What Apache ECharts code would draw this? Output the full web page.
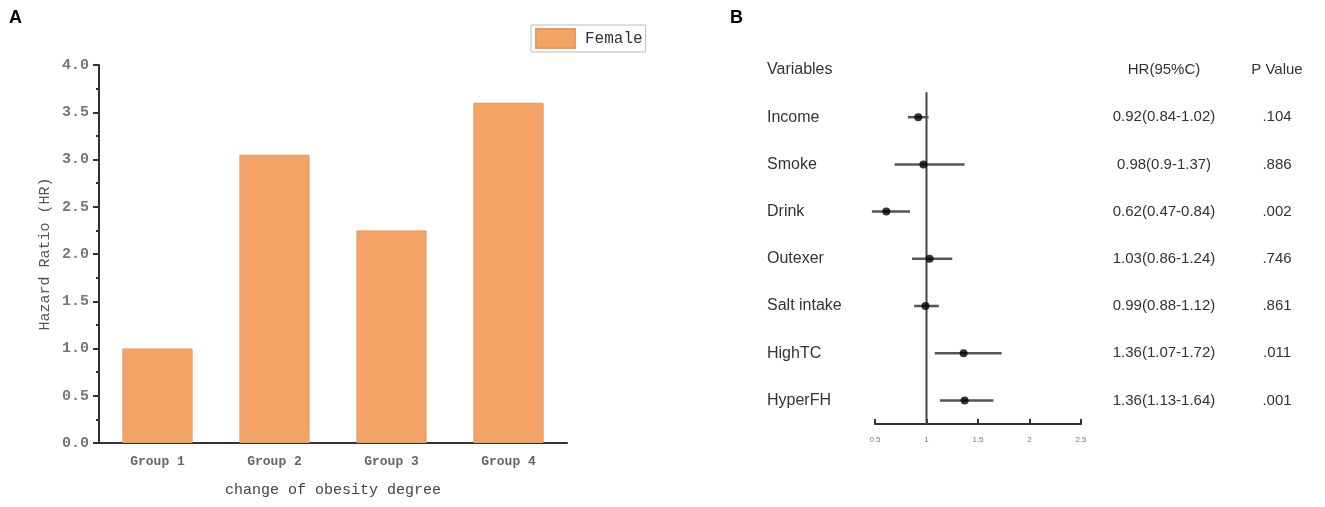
<!DOCTYPE html>
<html>
<head>
<meta charset="utf-8">
<script src="https://cdn.jsdelivr.net/npm/echarts@6/dist/echarts.min.js"></script>
<style>html,body{margin:0;padding:0;background:#fff;}#main{width:1325px;height:507px;}</style>
</head>
<body>
<div id="main"></div>
<script>
// ---- Panel A data ----
const groups = ['Group 1', 'Group 2', 'Group 3', 'Group 4'];
const femaleHR = [1.0, 3.05, 2.25, 3.6];
const yTicksA = [0, 0.5, 1, 1.5, 2, 2.5, 3, 3.5, 4];

// ---- Panel B data ----
const variables = ['Income', 'Smoke', 'Drink', 'Outexer', 'Salt intake', 'HighTC', 'HyperFH'];
const hrPoint = [0.92, 0.97, 0.61, 1.03, 0.99, 1.36, 1.37];
const ciLower = [0.82, 0.69, 0.47, 0.86, 0.88, 1.08, 1.13];
const ciUpper = [1.02, 1.37, 0.84, 1.25, 1.12, 1.73, 1.65];
const hrText = ['0.92(0.84-1.02)', '0.98(0.9-1.37)', '0.62(0.47-0.84)', '1.03(0.86-1.24)', '0.99(0.88-1.12)', '1.36(1.07-1.72)', '1.36(1.13-1.64)'];
const pText = ['.104', '.886', '.002', '.746', '.861', '.011', '.001'];
const headers = ['Variables', 'HR(95%C)', 'P Value'];
const xTicksB = [0.5, 1, 1.5, 2, 2.5];

const chart = echarts.init(document.getElementById('main'));

const monoFont = 'Liberation Mono';
const sansFont = 'Liberation Sans';

function rowLabel(arr, header) {
  return function (v) {
    if (Math.abs(v - Math.round(v)) > 1e-6) return '';
    const i = Math.round(v);
    if (i === -1) return header;
    return (i >= 0 && i < arr.length) ? arr[i] : '';
  };
}

const forestY = {
  gridIndex: 1, type: 'value', min: -1, max: 6.5, interval: 1, inverse: true,
  axisLine: { show: false, onZero: false }, axisTick: { show: false }, splitLine: { show: false }
};
const rowStyle = { color: '#333', fontFamily: sansFont, fontSize: 15, padding: [4, 0, 0, 0] };

const option = {
  animation: false,
  backgroundColor: '#fff',
  graphic: [
    { type: 'text', left: 9, top: 9, style: { text: 'A', font: 'bold 18px Liberation Sans', fill: '#000' } },
    { type: 'text', left: 730, top: 9, style: { text: 'B', font: 'bold 18px Liberation Sans', fill: '#000' } }
  ],
  legend: {
    data: ['Female'],
    left: 531, top: 25,
    padding: [3, 3, 3, 4],
    itemWidth: 39, itemHeight: 19,
    borderColor: '#bbb', borderWidth: 1,
    icon: 'rect',
    textStyle: { fontFamily: monoFont, fontSize: 16, color: '#333', padding: [0, 0, 0, 5] }
  },
  grid: [
    { left: 99, right: 758, top: 65, bottom: 64 },
    { left: 875, right: 244, top: 70, bottom: 83 }
  ],
  xAxis: [
    {
      gridIndex: 0, type: 'category', data: groups, position: 'bottom',
      axisLine: { lineStyle: { color: '#333', width: 2 } },
      axisTick: { alignWithLabel: true, length: 6, lineStyle: { color: '#333', width: 2 } },
      axisLabel: { fontFamily: monoFont, fontSize: 13, fontWeight: 'bold', color: '#666', margin: 12 },
      name: 'change of obesity degree', nameLocation: 'middle', nameGap: 40,
      nameTextStyle: { fontFamily: monoFont, fontSize: 15, color: '#444' }
    },
    {
      gridIndex: 0, type: 'category', data: groups, position: 'bottom',
      axisLine: { show: false },
      axisTick: { alignWithLabel: false, length: 3, lineStyle: { color: '#333', width: 2 } },
      axisLabel: { show: false }
    },
    {
      gridIndex: 1, type: 'value', min: 0.5, max: 2.5, interval: 0.5, position: 'bottom',
      axisLine: { onZero: false, lineStyle: { color: '#333', width: 2 } },
      axisTick: { inside: true, length: 5, lineStyle: { color: '#333', width: 2 } },
      axisLabel: { fontFamily: sansFont, fontSize: 8, color: '#777', margin: 12,
        formatter: function (v) { return xTicksB.indexOf(v) >= 0 ? String(v) : ''; } },
      splitLine: { show: false }
    }
  ],
  yAxis: [
    {
      gridIndex: 0, type: 'value', min: 0, max: 4, interval: 0.5,
      axisLine: { show: true, lineStyle: { color: '#333', width: 2 } },
      axisTick: { show: true, length: 6, lineStyle: { color: '#333', width: 2 } },
      minorTick: { show: true, splitNumber: 2, length: 3, lineStyle: { color: '#333', width: 2 } },
      axisLabel: { fontFamily: monoFont, fontSize: 15, fontWeight: 'bold', color: '#777', margin: 10,
        formatter: function (v) { return yTicksA.indexOf(v) >= 0 ? v.toFixed(1) : ''; } },
      splitLine: { show: false },
      name: 'Hazard Ratio (HR)', nameLocation: 'middle', nameGap: 46, nameRotate: 90,
      nameTextStyle: { fontFamily: monoFont, fontSize: 15, color: '#555' }
    },
    Object.assign({}, forestY, { position: 'left',
      axisLabel: Object.assign({}, rowStyle, { align: 'left', margin: 108, fontSize: 16, padding: [2, 0, 0, 0], formatter: rowLabel(variables, headers[0]) }) }),
    Object.assign({}, forestY, { position: 'right',
      axisLabel: Object.assign({}, rowStyle, { align: 'center', margin: 83, formatter: rowLabel(hrText, headers[1]) }) }),
    Object.assign({}, forestY, { position: 'right',
      axisLabel: Object.assign({}, rowStyle, { align: 'center', margin: 196, formatter: rowLabel(pText, headers[2]) }) })
  ],
  series: [
    {
      name: 'Female', type: 'bar', xAxisIndex: 0, yAxisIndex: 0,
      data: femaleHR, barWidth: '60%',
      itemStyle: { color: '#F3A365', borderColor: '#E79A5C', borderWidth: 1 }
    },
    {
      type: 'line', xAxisIndex: 2, yAxisIndex: 1,
      data: [[1, -0.53], [1, 6.5]], symbol: 'none',
      lineStyle: { color: '#444', width: 2 }, z: 2
    },
    {
      type: 'custom', xAxisIndex: 2, yAxisIndex: 1,
      data: variables.map(function (v, i) { return [ciLower[i], ciUpper[i], i]; }),
      encode: { x: [0, 1], y: 2 },
      renderItem: function (params, api) {
        const p1 = api.coord([api.value(0), api.value(2)]);
        const p2 = api.coord([api.value(1), api.value(2)]);
        return { type: 'line', shape: { x1: p1[0], y1: p1[1], x2: p2[0], y2: p2[1] },
          style: { stroke: '#555', lineWidth: 2.5 } };
      },
      z: 3
    },
    {
      type: 'scatter', xAxisIndex: 2, yAxisIndex: 1,
      data: variables.map(function (v, i) { return [hrPoint[i], i]; }),
      symbol: 'circle', symbolSize: 8,
      itemStyle: { color: '#000' }, z: 4
    }
  ]
};
chart.setOption(option);
</script>
</body>
</html>
